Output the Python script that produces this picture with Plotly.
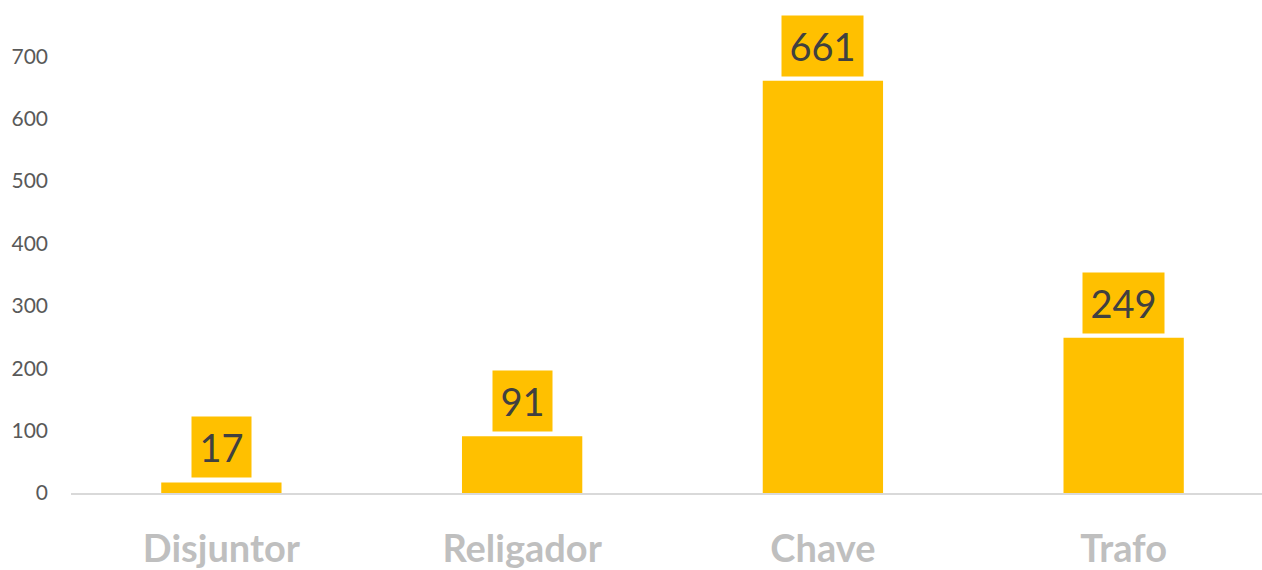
import plotly.graph_objects as go

categories = ["Disjuntor", "Religador", "Chave", "Trafo"]
values = [17, 91, 661, 249]
y_ticks = [0, 100, 200, 300, 400, 500, 600, 700]

bar_color = "#FFC000"

fig = go.Figure()
fig.add_trace(go.Bar(
    x=categories, y=values,
    marker=dict(color=bar_color, line=dict(width=0)),
    hoverinfo="x+y",
))

for c, v in zip(categories, values):
    txt = str(v)
    w = 55 if len(txt) == 2 else 77
    fig.add_annotation(
        x=c, y=v, text=txt, showarrow=False,
        xanchor="center", yanchor="bottom", yshift=4,
        bgcolor=bar_color, width=w, height=56, borderpad=2,
        font=dict(family="Lato", size=38, color="#404040"),
    )

fig.update_layout(
    width=1262, height=570,
    margin=dict(l=71, r=0, t=10, b=75),
    plot_bgcolor="white", paper_bgcolor="white",
    bargap=0.6, showlegend=False,
    xaxis=dict(
        range=[-0.5, 3.46],
        showline=True, linecolor="#D9D9D9", linewidth=2,
        showgrid=False, zeroline=False, ticks="",
        tickfont=dict(family="Lato", size=38, color="#BFBFBF", weight="bold"),
        ticklabelstandoff=21,
    ),
    yaxis=dict(
        range=[0, 774.3],
        tickvals=y_ticks,
        showgrid=False, zeroline=False, showline=False, ticks="",
        tickfont=dict(family="Lato", size=21, color="#595959"),
        ticklabelstandoff=22,
    ),
)

fig.write_html("out.html")
